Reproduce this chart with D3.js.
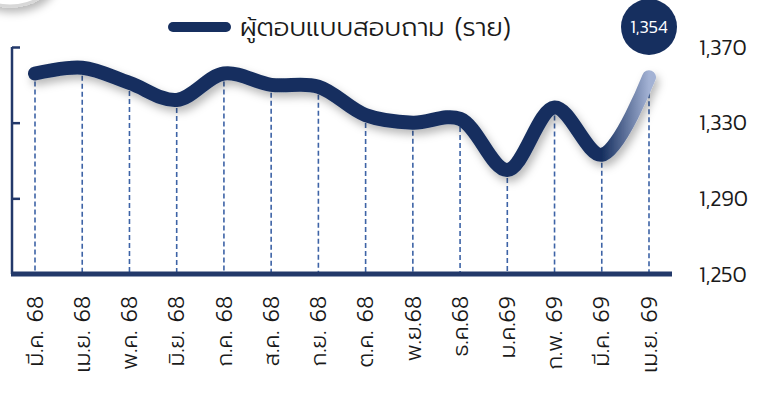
<!DOCTYPE html>
<html>
<head>
<meta charset="utf-8">
<script src="https://cdn.jsdelivr.net/npm/d3@7"></script>
<style>
body{margin:0;background:#fff;}
text{font-family:"Kanit","Noto Sans Thai",sans-serif;font-weight:300;}
text.th{font-family:"Prompt","Kanit","Noto Sans Thai",sans-serif;font-weight:300;}
</style>
</head>
<body>
<div id="plot"></div>
<script>
//Set Height and Width Vars;
const w=761;
const h=401;

//Data;
const months=["มี.ค. 68","เม.ย. 68","พ.ค. 68","มิ.ย. 68","ก.ค. 68","ส.ค. 68","ก.ย. 68","ต.ค. 68","พ.ย.68","ธ.ค.68","ม.ค.69","ก.พ. 69","มี.ค. 69","เม.ย. 69"];
const respondents=[1356,1359,1351,1342,1356,1350,1349,1334,1330,1332,1305,1338,1313,1354];
const yTicks=[1250,1290,1330,1370];
const seriesName="ผู้ตอบแบบสอบถาม (ราย)";
const lastLabel="1,354";

const navy="#162f5f";

//Initialize SVG;
const svg=d3.select("#plot")
			.append("svg")
			  .attr("width",w)
			  .attr("height",h);

const defs=svg.append("defs");

//Shadow filter;
const f=defs.append("filter")
			.attr("id","shadow")
			.attr("x","-10%").attr("y","-30%")
			.attr("width","130%").attr("height","180%");
f.append("feDropShadow")
 .attr("dx",3).attr("dy",5)
 .attr("stdDeviation",4)
 .attr("flood-color","#000")
 .attr("flood-opacity",0.28);

//Scales;
const x=d3.scalePoint()
		  .domain(months)
		  .range([35,649]);

const y=d3.scaleLinear()
		  .domain([1250,1370])
		  .range([274,47]);

//Gradient for last segment;
const grad=defs.append("linearGradient")
			   .attr("id","lineGrad")
			   .attr("gradientUnits","userSpaceOnUse")
			   .attr("x1",x(months[12])).attr("y1",0)
			   .attr("x2",x(months[13])).attr("y2",0);
grad.append("stop").attr("offset","0%").attr("stop-color",navy);
grad.append("stop").attr("offset","100%").attr("stop-color","#a3b2d4");

//Corner decoration;
svg.append("ellipse")
   .attr("cx",10).attr("cy",-22)
   .attr("rx",42).attr("ry",28)
   .attr("fill","#fff")
   .attr("stroke","#d8d8d8")
   .attr("stroke-width",3)
   .attr("filter","url(#shadow)");

//Dashed drop lines;
svg.selectAll(".drop")
   .data(respondents)
   .enter()
   .append("line")
	 .attr("class","drop")
	 .attr("x1",function(d,i){ return x(months[i]); })
	 .attr("x2",function(d,i){ return x(months[i]); })
	 .attr("y1",function(d){ return y(d); })
	 .attr("y2",y(1250))
	 .attr("stroke","#3d63a6")
	 .attr("stroke-width",1.6)
	 .attr("stroke-dasharray","5,3");

//Left Axis;
const yAxis=d3.axisRight(y)
			  .tickValues([1290,1330,1370])
			  .tickSize(8)
			  .tickFormat("");
const ya=svg.append("g")
			.attr("transform","translate(12,0)")
			.call(yAxis);
ya.select(".domain").remove();
ya.selectAll("line").attr("stroke","#23396a").attr("stroke-width",2.5);
ya.append("line")
  .attr("x1",0).attr("x2",0)
  .attr("y1",y(1370)).attr("y2",y(1250))
  .attr("stroke","#23396a")
  .attr("stroke-width",2.5);

//Bottom Axis line;
svg.append("line")
   .attr("x1",11).attr("x2",672)
   .attr("y1",y(1250)).attr("y2",y(1250))
   .attr("stroke","#23396a")
   .attr("stroke-width",5);

//Right tick labels;
svg.selectAll(".ylab")
   .data(yTicks)
   .enter()
   .append("text")
	 .attr("class","ylab")
	 .attr("x",699)
	 .attr("y",function(d){ return y(d); })
	 .attr("dy","0.35em")
	 .attr("font-size",22)
	 .attr("fill","#1a1a1a")
	 .text(function(d){ return d3.format(",")(d); });

//Line;
const line=d3.line()
			 .x(function(d,i){ return x(months[i]); })
			 .y(function(d){ return y(d); })
			 .curve(d3.curveCatmullRom.alpha(0.5));

svg.append("path")
   .datum(respondents)
   .attr("d",line)
   .attr("fill","none")
   .attr("stroke","url(#lineGrad)")
   .attr("stroke-width",14)
   .attr("stroke-linecap","round")
   .attr("stroke-linejoin","round")
   .attr("filter","url(#shadow)");

//Month labels;
svg.selectAll(".xlab")
   .data(months)
   .enter()
   .append("text")
	 .attr("class","xlab th")
	 .attr("transform",function(d){ return "translate(" + x(d) + ",296) rotate(-90)"; })
	 .attr("text-anchor","end")
	 .attr("dy","0.35em")
	 .attr("font-size",22)
	 .attr("fill","#1a1a1a")
	 .text(function(d){ return d; });

//Legend;
svg.append("line")
   .attr("x1",173).attr("x2",226)
   .attr("y1",27).attr("y2",27)
   .attr("stroke",navy)
   .attr("stroke-width",10)
   .attr("stroke-linecap","round");

svg.append("text")
   .attr("class","th")
   .attr("x",240)
   .attr("y",27)
   .attr("dy","0.35em")
   .attr("font-size",26)
   .attr("fill","#1a1a1a")
   .text(seriesName);

//Last value bubble;
svg.append("circle")
   .attr("cx",649).attr("cy",27)
   .attr("r",28)
   .attr("fill",navy);

svg.append("text")
   .attr("x",649).attr("y",27)
   .attr("dy","0.35em")
   .attr("text-anchor","middle")
   .attr("font-size",18)
   .attr("fill","#fff")
   .text(lastLabel);
</script>
</body>
</html>
